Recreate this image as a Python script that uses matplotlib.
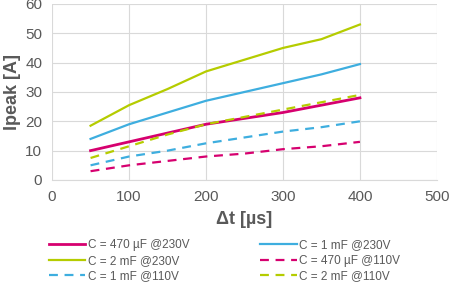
import matplotlib.pyplot as plt

dt = [50, 100, 150, 200, 250, 300, 350, 400]

c470_230 = [10, 13, 16, 19, 21, 23, 25.5, 28]
c1m_230 = [14, 19, 23, 27, 30, 33, 36, 39.5]
c2m_230 = [18.5, 25.5, 31, 37, 41, 45, 48, 53]
c470_110 = [3, 5, 6.5, 8, 9, 10.5, 11.5, 13]
c1m_110 = [5, 8, 10, 12.5, 14.5, 16.5, 18, 20]
c2m_110 = [7.5, 11.5, 15.5, 19, 21.5, 24, 26.5, 29]

magenta = "#d6006f"
blue = "#3eaedf"
green = "#b5cc00"
grey = "#595959"

plt.rcParams['font.family'] = ['Liberation Sans', 'DejaVu Sans']

fig = plt.figure(figsize=(4.49, 2.83), dpi=100)
ax = fig.add_axes([0.116, 0.364, 0.857, 0.622])

l1, = ax.plot(dt, c470_230, color=magenta, lw=2, label="C = 470 µF @230V")
l2, = ax.plot(dt, c1m_230, color=blue, lw=1.6, label="C = 1 mF @230V")
l3, = ax.plot(dt, c2m_230, color=green, lw=1.6, label="C = 2 mF @230V")
l4, = ax.plot(dt, c470_110, color=magenta, lw=1.6, ls=(0, (4, 3)), label="C = 470 µF @110V")
l5, = ax.plot(dt, c1m_110, color=blue, lw=1.6, ls=(0, (4, 3)), label="C = 1 mF @110V")
l6, = ax.plot(dt, c2m_110, color=green, lw=1.6, ls=(0, (4, 3)), label="C = 2 mF @110V")

ax.set_xlim(0, 500)
ax.set_ylim(0, 60)
ax.set_xticks(range(0, 501, 100))
ax.set_yticks(range(0, 61, 10))
ax.grid(color="#d9d9d9", lw=0.8)
ax.set_axisbelow(True)
for s in ["top", "right", "left"]:
    ax.spines[s].set_visible(False)
ax.spines["bottom"].set_color("#d9d9d9")
ax.tick_params(length=0, labelsize=11, colors=grey, pad=7)

ax.set_xlabel("Δt [µs]", fontsize=13, fontweight="bold", color=grey, labelpad=5)
ax.set_ylabel("Ipeak [A]", fontsize=13, fontweight="bold", color=grey, labelpad=3)

order = [l1, l3, l5, l2, l4, l6]
fig.legend(order, [l.get_label() for l in order],
           ncol=2, loc="lower center", bbox_to_anchor=(0.5, -0.035),
           frameon=False, fontsize=8.5, labelcolor=grey,
           handlelength=3.1, handletextpad=0.2, columnspacing=6,
           labelspacing=0.3)

fig.savefig("out.png", dpi=100)
